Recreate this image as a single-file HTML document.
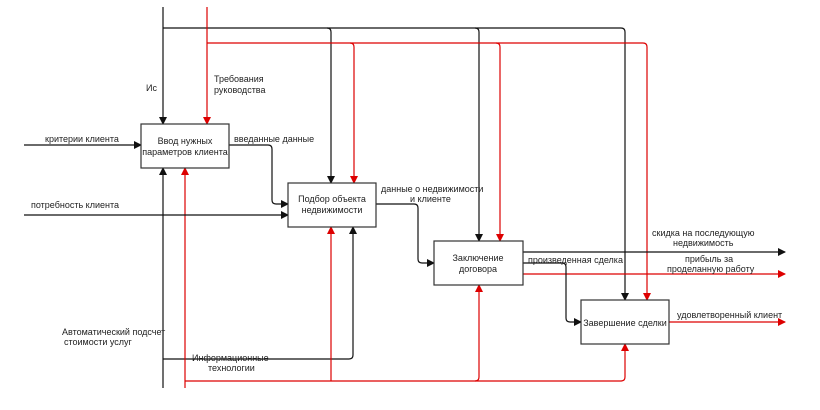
<html><head><style>
body{margin:0;background:#fff;}
svg text{font-family:"Liberation Sans",sans-serif;font-size:9px;fill:#222;}
</style></head><body>
<svg width="820" height="410" viewBox="0 0 820 410" xmlns="http://www.w3.org/2000/svg">
<defs>
<marker id="ab" markerWidth="8" markerHeight="8" refX="7" refY="4" orient="auto" markerUnits="userSpaceOnUse"><path d="M0,0 L8,4 L0,8 z" fill="#111"/></marker>
<marker id="ar" markerWidth="8" markerHeight="8" refX="7" refY="4" orient="auto" markerUnits="userSpaceOnUse"><path d="M0,0 L8,4 L0,8 z" fill="#d00"/></marker>
</defs>
<g fill="none" stroke-width="1.2">
<!-- black top -->
<path d="M163,7 V124" stroke="#111" marker-end="url(#ab)"/>
<path d="M163,28 H327 Q331,28 331,32 V183" stroke="#111" marker-end="url(#ab)"/>
<path d="M327,28 H475 Q479,28 479,32 V241" stroke="#111" marker-end="url(#ab)"/>
<path d="M475,28 H621 Q625,28 625,32 V300" stroke="#111" marker-end="url(#ab)"/>
<!-- red top -->
<path d="M207,7 V124" stroke="#d00" marker-end="url(#ar)"/>
<path d="M207,43 H350 Q354,43 354,47 V183" stroke="#d00" marker-end="url(#ar)"/>
<path d="M350,43 H496 Q500,43 500,47 V241" stroke="#d00" marker-end="url(#ar)"/>
<path d="M496,43 H643 Q647,43 647,47 V300" stroke="#d00" marker-end="url(#ar)"/>
<!-- bottom black -->
<path d="M163,388 V168" stroke="#111" marker-end="url(#ab)"/>
<path d="M163,359 H349 Q353,359 353,355 V227" stroke="#111" marker-end="url(#ab)"/>
<!-- bottom red -->
<path d="M185,388 V168" stroke="#d00" marker-end="url(#ar)"/>
<path d="M185,381 H475 Q479,381 479,377 V285" stroke="#d00" marker-end="url(#ar)"/>
<path d="M475,381 H621 Q625,381 625,377 V344" stroke="#d00" marker-end="url(#ar)"/>
<path d="M331,381 V227" stroke="#d00" marker-end="url(#ar)"/>
<!-- inputs -->
<path d="M24,145 H141" stroke="#111" marker-end="url(#ab)"/>
<path d="M24,215 H288" stroke="#111" marker-end="url(#ab)"/>
<path d="M229,145 H268 Q272,145 272,149 V200 Q272,204 276,204 H288" stroke="#111" marker-end="url(#ab)"/>
<path d="M376,204 H414 Q418,204 418,208 V259 Q418,263 422,263 H434" stroke="#111" marker-end="url(#ab)"/>
<path d="M523,252 H785" stroke="#111" marker-end="url(#ab)"/>
<path d="M523,274 H785" stroke="#d00" marker-end="url(#ar)"/>
<path d="M523,263 H562 Q566,263 566,267 V318 Q566,322 570,322 H581" stroke="#111" marker-end="url(#ab)"/>
<path d="M669,322 H785" stroke="#d00" marker-end="url(#ar)"/>
</g>
<g fill="#fff" stroke="#333" stroke-width="1.2">
<rect x="141" y="124" width="88" height="44"/>
<rect x="288" y="183" width="88" height="44"/>
<rect x="434" y="241" width="89" height="44"/>
<rect x="581" y="300" width="88" height="44"/>
</g>
<text x="185" y="144" text-anchor="middle">Ввод нужных</text>
<text x="185" y="155" text-anchor="middle">параметров клиента</text>
<text x="332" y="202" text-anchor="middle">Подбор объекта</text>
<text x="332" y="213" text-anchor="middle">недвижимости</text>
<text x="478" y="261" text-anchor="middle">Заключение</text>
<text x="478" y="272" text-anchor="middle">договора</text>
<text x="625" y="326" text-anchor="middle">Завершение сделки</text>
<text x="146" y="91">Ис</text>
<text x="214" y="82">Требования</text>
<text x="214" y="93">руководства</text>
<text x="45" y="142">критерии клиента</text>
<text x="31" y="208">потребность клиента</text>
<text x="234" y="142">введанные данные</text>
<text x="381" y="192">данные о недвижимости</text>
<text x="410" y="202">и клиенте</text>
<text x="652" y="236">скидка на последующую</text>
<text x="673" y="246">недвижимость</text>
<text x="528" y="263">произведенная сделка</text>
<text x="685" y="262">прибыль за</text>
<text x="667" y="272">проделанную работу</text>
<text x="677" y="318">удовлетворенный клиент</text>
<text x="62" y="335">Автоматический подсчет</text>
<text x="64" y="345">стоимости услуг</text>
<text x="192" y="361">Информационные</text>
<text x="208" y="371">технологии</text>
</svg>
</body></html>
